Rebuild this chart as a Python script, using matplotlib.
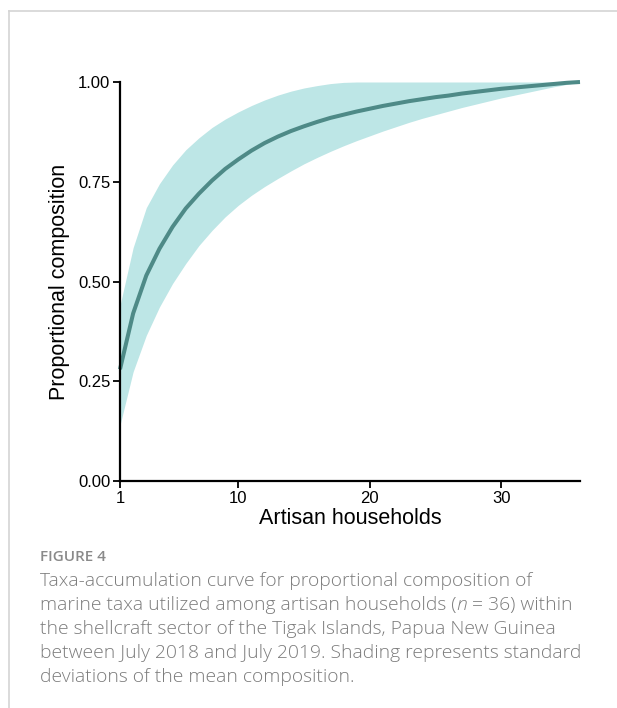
import matplotlib
matplotlib.use("Agg")
import matplotlib.pyplot as plt
from matplotlib.lines import Line2D
from matplotlib.transforms import offset_copy

households = list(range(1, 37))
mean_comp = [0.280, 0.420, 0.515, 0.582, 0.637, 0.683, 0.720, 0.753, 0.782, 0.806,
             0.828, 0.847, 0.863, 0.877, 0.889, 0.900, 0.910, 0.918, 0.926, 0.933,
             0.940, 0.946, 0.952, 0.957, 0.962, 0.966, 0.971, 0.975, 0.979, 0.983,
             0.986, 0.989, 0.992, 0.995, 0.998, 1.000]
lower_sd = [0.140, 0.274, 0.365, 0.436, 0.495, 0.545, 0.590, 0.628, 0.662, 0.691,
            0.716, 0.738, 0.758, 0.777, 0.795, 0.811, 0.826, 0.840, 0.853, 0.865,
            0.877, 0.888, 0.899, 0.909, 0.918, 0.927, 0.936, 0.944, 0.952, 0.960,
            0.967, 0.974, 0.981, 0.988, 0.994, 1.000]
upper_sd = [0.440, 0.585, 0.685, 0.745, 0.792, 0.830, 0.860, 0.886, 0.907, 0.925,
            0.941, 0.955, 0.967, 0.977, 0.985, 0.991, 0.996, 0.999, 1.000, 1.000,
            1.000, 1.000, 1.000, 1.000, 1.000, 1.000, 1.000, 1.000, 1.000, 1.000,
            1.000, 1.000, 1.000, 1.000, 1.000, 1.000]
x_ticks = [1, 10, 20, 30]
y_ticks = [0.00, 0.25, 0.50, 0.75, 1.00]
y_tick_labels = ["0.00", "0.25", "0.50", "0.75", "1.00"]

W, H = 617, 708
fig = plt.figure(figsize=(W / 100, H / 100), dpi=100)
fig.patch.set_facecolor("white")

# frame lines (top and left)
fig.add_artist(Line2D([9 / W, 1.0], [1 - 10.7 / H, 1 - 10.7 / H], color="#d4d4d4", lw=1.2))
fig.add_artist(Line2D([9 / W, 9 / W], [0, 1 - 10.7 / H], color="#d4d4d4", lw=1.2))

ax = fig.add_axes([120 / W, 1 - 481 / H, (580 - 120) / W, (481 - 82) / H])
ax.fill_between(households, lower_sd, upper_sd, color="#bde6e6", lw=0, zorder=1)
ax.plot(households, mean_comp, color="#4e8a87", lw=2.9, solid_capstyle="butt", zorder=2, clip_on=False)

ax.set_xlim(1, 36)
ax.set_ylim(0, 1)
ax.set_xticks(x_ticks)
ax.set_yticks(y_ticks)
ax.set_yticklabels(y_tick_labels)
for s in ["top", "right"]:
    ax.spines[s].set_visible(False)
for s in ["left", "bottom"]:
    ax.spines[s].set_linewidth(1.6)
    ax.spines[s].set_color("black")
ax.tick_params(axis="both", direction="out", length=5, width=1.3, color="black",
               labelsize=12, labelcolor="black", pad=2)
for lab in ax.get_xticklabels() + ax.get_yticklabels():
    lab.set_family("Liberation Sans")
ax.set_xlabel("Artisan households", fontsize=15.5, family="Liberation Sans", labelpad=2)
ax.set_ylabel("Proportional composition", fontsize=15.5, family="Liberation Sans", labelpad=6)

# caption
fig.text(40 / W, 1 - 561 / H, "FIGURE 4", fontsize=11, family="Open Sans",
         weight="semibold", color="#8a8a8a", va="baseline", ha="left")
cap_kw = dict(fontsize=13.9, family="Open Sans", weight="light", color="#7c7c7c",
              va="baseline", ha="left")
caption_lines = [
    ["Taxa-accumulation curve for proportional composition of"],
    ["marine taxa utilized among artisan households (", "n", " = 36) within"],
    ["the shellcraft sector of the Tigak Islands, Papua New Guinea"],
    ["between July 2018 and July 2019. Shading represents standard"],
    ["deviations of the mean composition."],
]
baselines = [586, 610, 634, 658, 682]
renderer = fig.canvas.get_renderer()
for parts, b in zip(caption_lines, baselines):
    xpix = 0.0
    for i, part in enumerate(parts):
        style = "italic" if part == "n" else "normal"
        tr = offset_copy(fig.transFigure, fig=fig, x=xpix * 72 / 100, y=0, units="points")
        t = fig.text(40 / W, 1 - b / H, part, transform=tr, style=style, **cap_kw)
        if i < len(parts) - 1:
            # measure width including trailing spaces using a dummy char
            probe = fig.text(0, 0, part + "|", style=style, **cap_kw)
            bar = fig.text(0, 0, "|", style=style, **cap_kw)
            w = probe.get_window_extent(renderer).width - bar.get_window_extent(renderer).width
            probe.remove()
            bar.remove()
            xpix += w

fig.savefig("out.png", dpi=100)
